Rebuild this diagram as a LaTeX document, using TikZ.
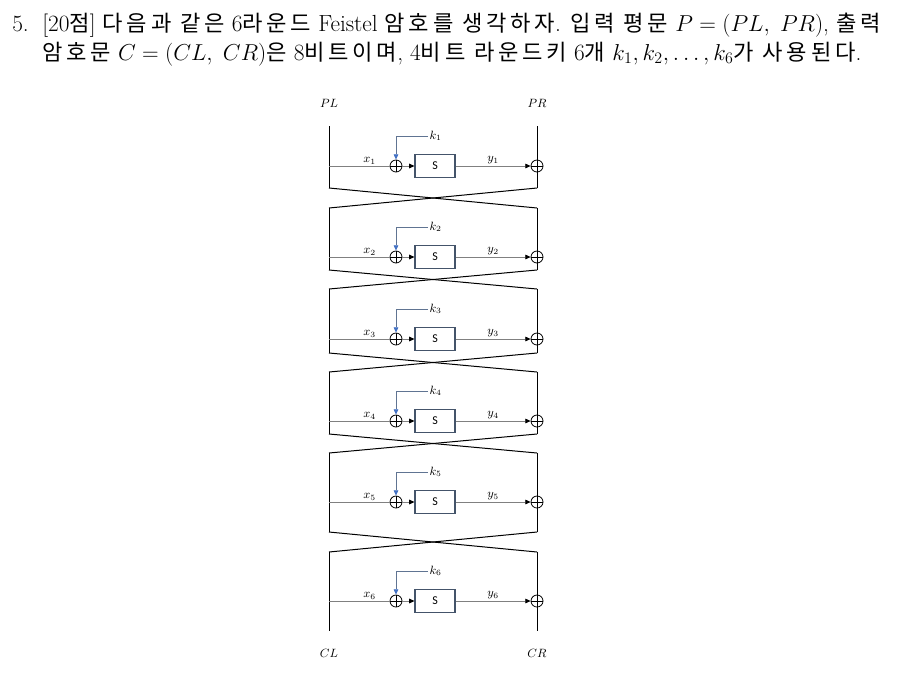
\documentclass[tikz,border=0pt]{standalone}
\usepackage{amsmath}
\usepackage{fontspec}
\usepackage{tikz}
\usetikzlibrary{arrows.meta}
\usepackage{xcolor}

\newfontfamily\krfont[Scale=0.95, LetterSpace=17]{Noto Sans CJK KR}
\newfontfamily\sboxfont{Carlito}
\newcommand{\hk}[1]{{\krfont #1}}
\newcommand{\hdrsize}{\fontsize{17.5}{20}\selectfont}

\definecolor{wiregray}{RGB}{128,128,128}
\definecolor{boxblue}{RGB}{68,84,106}
\definecolor{keyline}{RGB}{96,116,146}
\definecolor{keyblue}{RGB}{68,114,196}

\begin{document}
\begin{tikzpicture}[
  x=0.75pt, y=-0.75pt,
  xorop/.style={circle, draw, minimum size=9pt, inner sep=0pt, line width=0.6pt,
    path picture={\draw[line width=0.6pt]
      (path picture bounding box.north) -- (path picture bounding box.south)
      (path picture bounding box.west) -- (path picture bounding box.east);}},
  sbox/.style={draw=boxblue, line width=0.8pt, minimum width=30pt, minimum height=17pt,
    inner sep=0pt, font=\sboxfont\fontsize{9}{10}\selectfont},
  lbl/.style={font=\fontsize{9}{10}\selectfont, inner sep=1pt},
  hdr/.style={anchor=base west, inner sep=0pt, font=\hdrsize},
  rail/.style={draw=black, line width=0.75pt},
  wire/.style={draw=wiregray, line width=0.6pt},
  flow/.style={draw=wiregray, line width=0.6pt, -{Triangle[length=4pt, width=3.5pt, color=black]}},
  keyin/.style={draw=keyline, line width=0.6pt, -{Triangle[length=4pt, width=3.5pt, color=keyblue]}}
]
  \useasboundingbox (0,0) rectangle (905,690);

  % Problem statement.
  \node[hdr] (num) at (12,31) {5.};
  \node[hdr] (ln1) at (42,31) {[20\hk{점}] \hk{다음과 같은} 6\hk{라운드} Feistel \hk{암호를 생각하자}. \hk{입력 평문} $P=(PL,\;PR)$, \hk{출력}};
  \node[hdr] (ln2) at (42,60) {\hk{암호문} $C=(CL,\;CR)$\hk{은} 8\hk{비트이며}, 4\hk{비트 라운드키} 6\hk{개} $k_1,k_2,\ldots,k_6$\hk{가 사용된다}.};

  % Input and output halves.
  \node[lbl] (pl) at (329,103) {$PL$};
  \node[lbl] (pr) at (537,103) {$PR$};
  \node[lbl] (cl) at (329,653) {$CL$};
  \node[lbl] (cr) at (537,653) {$CR$};

  % One round: rails, key mixing, S-box and XOR into the right half.
  \foreach \i/\t/\r/\b in {1/126/166/188, 2/208/257/270, 3/289/339/353,
                           4/372/421/434, 5/453/502/532, 6/552/601/631} {
    \coordinate (lt\i) at (329,\t);
    \coordinate (lb\i) at (329,\b);
    \coordinate (rt\i) at (537,\t);
    \coordinate (rb\i) at (537,\b);
    \coordinate (li\i) at (329,\r);
    \node[xorop] (kx\i) at (396,\r) {};
    \node[xorop] (rx\i) at (537,\r) {};
    \node[sbox] (sb\i) at (435,\r) {S};
    \node[lbl, anchor=west] (kl\i) at (428,\r-30) {$k_{\i}$};
    \draw[rail] (lt\i) -- (lb\i);
    \draw[rail] (rt\i) -- (rb\i);
    \draw[wire] (li\i) -- node[lbl, above, pos=0.67] (xl\i) {$x_{\i}$} (kx\i);
    \draw[keyin] (kl\i.west) -| (kx\i.north);
    \draw[flow] (kx\i) -- (sb\i);
    \draw[flow] (sb\i) -- node[lbl, above] (yl\i) {$y_{\i}$} (rx\i);
  }

  % Swap of the halves between rounds.
  \foreach \i [evaluate=\i as \j using int(\i+1)] in {1,...,5} {
    \draw[rail] (lb\i) -- (rt\j);
    \draw[rail] (rb\i) -- (lt\j);
  }
\end{tikzpicture}
\end{document}
